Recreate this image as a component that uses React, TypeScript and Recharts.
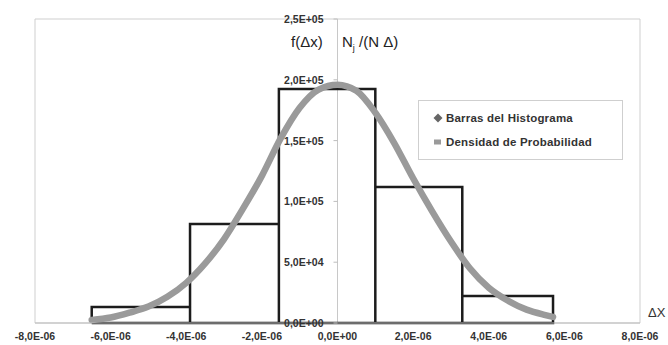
import React from 'react'
import {
    ComposedChart,
    Line,
    XAxis,
    YAxis,
    ReferenceLine,
    ReferenceArea,
    Legend,
} from 'recharts'

// histogram bins (bin edges in m, bar heights Nj/(N*delta))
const binEdges = [-6.5e-6, -3.9e-6, -1.55e-6, 1.0e-6, 3.3e-6, 5.7e-6]
const binHeights = [13200, 81400, 192400, 111800, 22200]

// probability density curve
const curveX = [
    -6.5e-6, -6.0e-6, -5.5e-6, -5.0e-6, -4.5e-6, -4.0e-6, -3.5e-6, -3.0e-6, -2.5e-6,
    -2.0e-6, -1.5e-6, -1.0e-6, -0.5e-6, 0, 0.5e-6, 1.0e-6, 1.5e-6, 2.0e-6, 2.5e-6,
    3.0e-6, 3.5e-6, 4.0e-6, 4.5e-6, 5.0e-6, 5.5e-6, 5.7e-6,
]
const curveY = [
    2500, 4500, 8500, 13500, 21500, 33000, 49000, 69000, 94000,
    121000, 152000, 177000, 192000, 196000, 191000, 173000, 148000, 119000, 92000,
    67000, 45000, 29000, 18500, 11000, 6500, 5000,
]

const xTicks = [-8e-6, -6e-6, -4e-6, -2e-6, 0, 2e-6, 4e-6, 6e-6, 8e-6]
const yTicks = [0, 50000, 100000, 150000, 200000, 250000]

const seriesNames = ['Barras del Histograma', 'Densidad de Probabilidad']

const CHART_W = 668
const CHART_H = 345
const MARGIN = { top: 19, right: 28, bottom: 0, left: 34 }
const Y_AXIS_W = 1
const PLOT_LEFT = MARGIN.left + Y_AXIS_W
const ZERO_X = PLOT_LEFT + (CHART_W - PLOT_LEFT - MARGIN.right) / 2
const FONT = '"Liberation Sans", Arial, sans-serif'
const TICK_FONT = 10.5

// Excel style "2,5E+05"
function fmtSci(v: number) {
    const [m, e] = v.toExponential(1).split('e')
    const sign = e.startsWith('-') ? '-' : '+'
    const digits = e.replace(/[+-]/, '').padStart(2, '0')
    return `${m.replace('.', ',')}E${sign}${digits}`
}

// outline of the histogram traced as one xy series
const histData: { x: number; y: number }[] = [{ x: binEdges[0], y: 0 }]
binHeights.forEach((h, i) => {
    histData.push({ x: binEdges[i], y: h })
    histData.push({ x: binEdges[i + 1], y: h })
    histData.push({ x: binEdges[i + 1], y: 0 })
})
histData.push({ x: binEdges[0], y: 0 })

const curveData = curveX.map((x, i) => ({ x, y: curveY[i] }))

function renderYTick(props: any) {
    const { y, payload, index } = props
    return (
        <g key={`yt-${index}`}>
            <line x1={ZERO_X - 4} x2={ZERO_X} y1={y} y2={y} stroke="#bdbdbd" />
            <text
                x={ZERO_X - 14}
                y={y}
                textAnchor="end"
                dominantBaseline="central"
                fontSize={TICK_FONT}
                fontWeight="bold"
                fill="#333"
                fontFamily={FONT}
            >
                {fmtSci(payload.value)}
            </text>
        </g>
    )
}

function LegendBox(props: any) {
    const payload = props.payload || []
    return (
        <div
            style={{
                width: 205,
                height: 60,
                boxSizing: 'border-box',
                border: '1px solid #cfcfcf',
                background: '#fff',
                paddingTop: 5,
                fontFamily: FONT,
                fontSize: 11.5,
                letterSpacing: 0.2,
                fontWeight: 'bold',
                color: '#333',
            }}
        >
            {payload.map((p: any, i: number) => (
                <div key={`leg-${i}`} style={{ display: 'flex', alignItems: 'center', height: 24, paddingLeft: 14 }}>
                    <svg width={12} height={10} style={{ marginRight: 1 }}>
                        {i === 0 ? (
                            <polygon points="5,0.5 9.5,5 5,9.5 0.5,5" fill="#666" />
                        ) : (
                            <rect x={1} y={2.5} width={7} height={5} fill="#9a9a9a" />
                        )}
                    </svg>
                    <span>{p.value}</span>
                </div>
            ))}
        </div>
    )
}

export default function App() {
    return (
        <div style={{ position: 'relative', width: CHART_W, height: CHART_H, background: '#fff' }}>
            <style>{'body{margin:0}'}</style>
            <ComposedChart width={CHART_W} height={CHART_H} margin={MARGIN} style={{ fontFamily: FONT }}>
                <XAxis
                    type="number"
                    dataKey="x"
                    domain={[-8e-6, 8e-6]}
                    ticks={xTicks}
                    interval={0}
                    tickFormatter={fmtSci}
                    axisLine={{ stroke: '#bdbdbd' }}
                    tickLine={false}
                    tickMargin={4}
                    tick={{ fontSize: TICK_FONT, fontWeight: 'bold', fill: '#333' }}
                    height={22}
                />
                <YAxis
                    type="number"
                    domain={[0, 250000]}
                    ticks={yTicks}
                    interval={0}
                    width={Y_AXIS_W}
                    axisLine={false}
                    tickLine={false}
                    tick={renderYTick}
                />

                {/* plot frame */}
                <ReferenceArea x1={-8e-6} x2={8e-6} y1={0} y2={250000} fill="none" stroke="#cfcfcf" />
                <ReferenceLine x={0} stroke="#c8c8c8" />

                <Line
                    data={histData}
                    dataKey="y"
                    name={seriesNames[0]}
                    type="linear"
                    stroke="#1c1c1c"
                    strokeWidth={2.5}
                    strokeLinejoin="miter"
                    dot={false}
                    activeDot={false}
                    isAnimationActive={false}
                    legendType="diamond"
                />
                <Line
                    data={curveData}
                    dataKey="y"
                    name={seriesNames[1]}
                    type="monotone"
                    stroke="#9a9a9a"
                    strokeWidth={6.5}
                    strokeLinecap="round"
                    dot={false}
                    activeDot={false}
                    isAnimationActive={false}
                    legendType="square"
                />

                <Legend
                    layout="horizontal"
                    verticalAlign="middle"
                    align="center"
                    content={<LegendBox />}
                    wrapperStyle={{ left: 418, top: 100, width: 205, height: 60 }}
                />
            </ComposedChart>

            {/* axis titles */}
            <div style={{ position: 'absolute', left: 291, top: 33, fontFamily: FONT, fontSize: 15, color: '#222' }}>
                f(Δx)
            </div>
            <div style={{ position: 'absolute', left: 342, top: 33, fontFamily: FONT, fontSize: 15, color: '#222' }}>
                N<sub style={{ fontSize: 9 }}>j</sub> /(N Δ)
            </div>
            <div style={{ position: 'absolute', left: 648, top: 305, fontFamily: FONT, fontSize: 13, color: '#333' }}>
                ΔX
            </div>
        </div>
    )
}
